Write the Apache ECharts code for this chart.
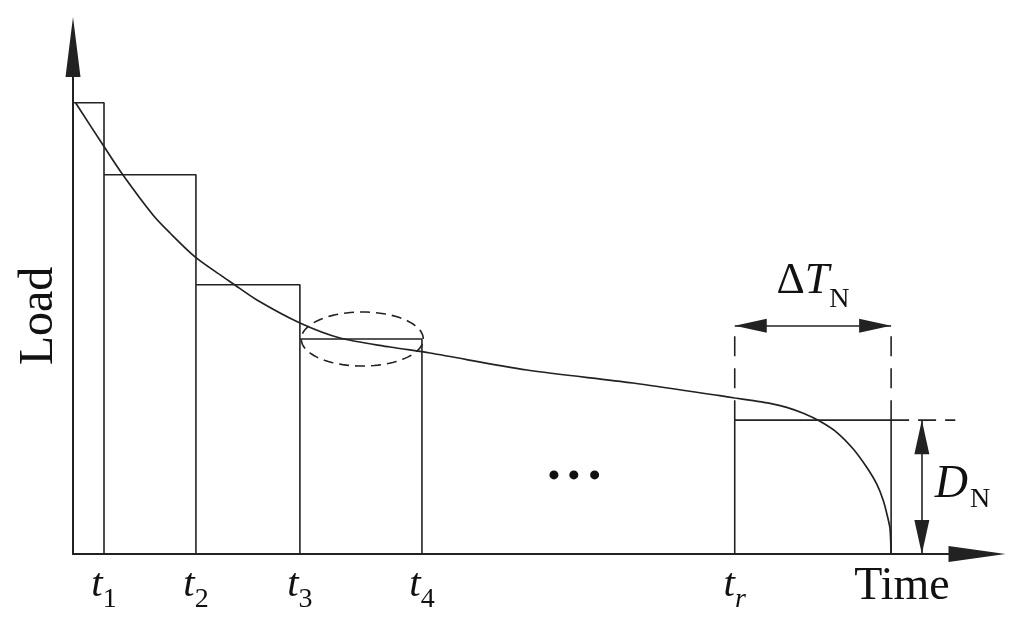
<!DOCTYPE html>
<html><head><meta charset="utf-8">
<script src="https://cdn.jsdelivr.net/npm/echarts@6/dist/echarts.min.js"></script>
<style>html,body{margin:0;padding:0;background:#fff}#c{width:1024px;height:626px}</style>
</head><body><div id="c"></div>
<script>
// ---- data (time units 0..100, load units 0..100) ----
const stepTimes = [0, 3.43, 13.6, 25.1, 38.6];      // step boundaries t0..t4
const stepLoads = [89.0, 74.8, 53.1, 42.4];         // step heights
const lastStepTimes = [73.2, 90.5];                 // t_r .. end
const lastStepLoad = 26.4;
const tickTimes = [3.43, 13.6, 25.1, 38.6, 73.2];
const tickSubs = ['1', '2', '3', '4', 'r'];
const curveTime = [0.3, 3.32, 5.53, 8.85, 10.73, 13.5, 16.48, 17.59, 20.35, 25.11, 29.54, 35.07, 39.49, 50.22, 61.95, 71.57, 73.23, 75.25, 77.10, 78.95, 80.79, 82.63, 84.48, 86.31, 87.80, 88.90, 89.64, 90.12, 90.38, 90.49];
const curveLoad = [88.95, 80.67, 74.75, 66.86, 63.31, 58.6, 54.8, 53.45, 50.1, 45.56, 42.6, 40.83, 39.64, 36.29, 33.73, 31.22, 30.77, 30.24, 29.72, 28.93, 27.75, 26.17, 24.0, 20.71, 17.10, 13.81, 10.52, 7.24, 4.93, 0];
const ellipseParams = [32.0, 42.4, 6.75, 5.33];     // cx, cy, rx, ry
const dotTimes = [53.2, 55.4, 57.7];
const dotLoad = 15.6;
const deltaTLoad = 45.0;
const dashExtendEnd = 97.6;
const dArrowTime = 93.9;
const dLabelLoad = 13.6;

const INK = '#222';
const SERIF = '"Liberation Serif", "Times New Roman", serif';

// build step outline
const stepPath = [];
for (let i = 0; i < stepLoads.length; i++) {
  stepPath.push([stepTimes[i], stepLoads[i]]);
  stepPath.push([stepTimes[i + 1], stepLoads[i]]);
  stepPath.push([stepTimes[i + 1], 0]);
}
const lastPath = [[lastStepTimes[0], 0], [lastStepTimes[0], lastStepLoad], [lastStepTimes[1], lastStepLoad], [lastStepTimes[1], 0]];
const curve = curveTime.map((t, i) => [t, curveLoad[i]]);

function plain(data, extra) {
  return Object.assign({
    type: 'line', data: data, showSymbol: false, symbol: 'none', silent: true, animation: false,
    lineStyle: { color: INK, width: 1.6 }, z: 3
  }, extra || {});
}

const chart = echarts.init(document.getElementById('c'));
chart.setOption({
  backgroundColor: '#fff',
  animation: false,
  grid: { left: 73, right: 47, top: 47, bottom: 72, containLabel: false },
  xAxis: {
    type: 'value', min: 0, max: 100,
    axisLine: { show: true, onZero: false, symbol: ['none', 'triangle'], symbolSize: [16, 57], lineStyle: { color: INK, width: 2 } },
    axisTick: { show: false }, axisLabel: { show: false }, splitLine: { show: false }
  },
  yAxis: {
    type: 'value', min: 0, max: 100,
    axisLine: { show: true, onZero: false, symbol: ['none', 'triangle'], symbolSize: [15, 60], lineStyle: { color: INK, width: 2 } },
    axisTick: { show: false }, axisLabel: { show: false }, splitLine: { show: false }
  },
  graphic: [
    { type: 'text', x: 902, y: 587, style: { text: 'Time', font: '46px ' + SERIF, fill: '#111', align: 'center', verticalAlign: 'middle' } },
    { type: 'text', x: 39, y: 316, rotation: Math.PI / 2, style: { text: 'Load', font: '48px ' + SERIF, fill: '#111', align: 'center', verticalAlign: 'middle' } }
  ],
  series: [
    plain(stepPath),
    plain(lastPath),
    plain([[lastStepTimes[0], lastStepLoad], [lastStepTimes[0], deltaTLoad]], { lineStyle: { color: INK, width: 1.6, type: [20, 12] } }),
    plain([[lastStepTimes[1], lastStepLoad], [lastStepTimes[1], deltaTLoad]], { lineStyle: { color: INK, width: 1.6, type: [20, 12] } }),
    plain([[lastStepTimes[1], lastStepLoad], [dashExtendEnd, lastStepLoad]], { lineStyle: { color: INK, width: 1.6, type: [18, 9] } }),
    plain(curve, { smooth: 0.3, lineStyle: { color: INK, width: 1.7 }, z: 4 }),
    {
      type: 'custom', silent: true, animation: false, z: 4,
      data: [ellipseParams],
      renderItem: function (params, api) {
        const cx = api.value(0), cy = api.value(1), rx = api.value(2), ry = api.value(3);
        const pts = [];
        for (let k = 0; k <= 96; k++) {
          const a = k / 96 * 2 * Math.PI;
          pts.push(api.coord([cx + rx * Math.cos(a), cy + ry * Math.sin(a)]));
        }
        return { type: 'polyline', shape: { points: pts }, style: { fill: null, stroke: INK, lineWidth: 1.6, lineDash: [10, 6] } };
      }
    },
    // ΔT_N double arrow
    {
      type: 'line', data: [], silent: true, animation: false,
      markLine: {
        silent: true, animation: false, symbol: ['triangle', 'triangle'], symbolSize: [14, 32], symbolOffset: [[0, 16], [0, 16]],
        lineStyle: { color: INK, width: 1.6, type: 'solid' }, label: { show: false },
        data: [[{ coord: [lastStepTimes[0], deltaTLoad] }, { coord: [lastStepTimes[1], deltaTLoad] }]]
      }
    },
    // D_N double arrow
    {
      type: 'line', data: [], silent: true, animation: false,
      markLine: {
        silent: true, animation: false, symbol: ['triangle', 'triangle'], symbolSize: [15, 34], symbolOffset: [[0, 17], [0, 17]],
        lineStyle: { color: INK, width: 1.6, type: 'solid' }, label: { show: false },
        data: [[{ coord: [dArrowTime, lastStepLoad] }, { coord: [dArrowTime, 0] }]]
      }
    },
    // ellipsis dots
    {
      type: 'scatter', silent: true, animation: false, symbol: 'circle', symbolSize: 9,
      itemStyle: { color: '#111', opacity: 1 },
      data: dotTimes.map(t => [t, dotLoad])
    },
    // tick labels t_i
    {
      type: 'scatter', silent: true, animation: false, symbolSize: 0,
      itemStyle: { opacity: 1 },
      data: tickTimes.map((t, i) => [t, 0]),
      label: {
        show: true, position: 'bottom', distance: 2,
        formatter: function (p) {
          const s = tickSubs[p.dataIndex];
          return '{t|t}' + (s === 'r' ? '{si|r}' : '{s|' + s + '}');
        },
        rich: {
          t: { fontFamily: SERIF, fontStyle: 'italic', fontSize: 41, color: '#111' },
          s: { fontFamily: SERIF, fontSize: 28, color: '#111', padding: [30, 0, 0, 0] },
          si: { fontFamily: SERIF, fontStyle: 'italic', fontSize: 28, color: '#111', padding: [30, 0, 0, 0] }
        }
      }
    },
    // ΔT_N label
    {
      type: 'scatter', silent: true, animation: false, symbolSize: 0,
      itemStyle: { opacity: 1 },
      data: [[(lastStepTimes[0] + lastStepTimes[1]) / 2, deltaTLoad]],
      label: {
        show: true, position: 'top', distance: 12,
        formatter: '{d|Δ}{t|T}{s|N}',
        rich: {
          d: { fontFamily: SERIF, fontSize: 44, color: '#111' },
          t: { fontFamily: SERIF, fontStyle: 'italic', fontSize: 44, color: '#111' },
          s: { fontFamily: SERIF, fontSize: 28, color: '#111', padding: [36, 0, 0, 0] }
        }
      }
    },
    // D_N label
    {
      type: 'scatter', silent: true, animation: false, symbolSize: 0,
      itemStyle: { opacity: 1 },
      data: [[dArrowTime, dLabelLoad]],
      label: {
        show: true, position: 'right', distance: 13,
        formatter: '{t|D}{s|N}',
        rich: {
          t: { fontFamily: SERIF, fontStyle: 'italic', fontSize: 46, color: '#111' },
          s: { fontFamily: SERIF, fontSize: 28, color: '#111', padding: [30, 0, 0, 2] }
        }
      }
    }
  ]
});
</script>
</body></html>
